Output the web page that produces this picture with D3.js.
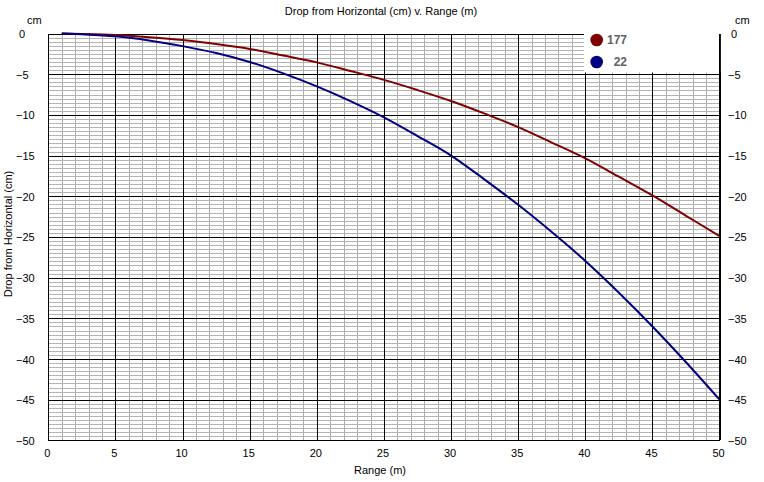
<!DOCTYPE html>
<html><head><meta charset="utf-8">
<script src="https://cdn.jsdelivr.net/npm/d3@7/dist/d3.min.js"></script>
<style>
body{margin:0;background:#fff;}
svg{display:block;font-family:"Liberation Sans",Arial,sans-serif;}
</style></head>
<body>
<svg id="c" width="764" height="482"></svg>
<script>
// ---- data ----
const ranges = [1, 2.5, 5, 7.5, 10, 12.5, 15, 17.5, 20, 22.5, 25, 27.5, 30, 32.5, 35, 37.5, 40, 42.5, 45, 47.5, 50];
const drop177 = [0, -0.05, -0.18, -0.45, -0.8, -1.3, -1.9, -2.7, -3.55, -4.6, -5.7, -6.95, -8.3, -9.85, -11.5, -13.4, -15.35, -17.6, -19.9, -22.4, -24.9];
const drop22 = [0, -0.1, -0.35, -0.85, -1.55, -2.4, -3.5, -4.9, -6.5, -8.3, -10.3, -12.6, -15.0, -17.95, -21.05, -24.4, -27.95, -31.85, -36.0, -40.4, -45.0];
const seriesNames = ["177", "22"];
const seriesColors = ["#800000", "#000080"];
const xTicks = [0, 5, 10, 15, 20, 25, 30, 35, 40, 45, 50];
const yTicks = [0, -5, -10, -15, -20, -25, -30, -35, -40, -45, -50];
const title = "Drop from Horizontal (cm) v. Range (m)";
const xTitle = "Range (m)";
const yTitle = "Drop from Horizontal (cm)";
const unitLabel = "cm";

// ---- layout ----
const L = 48.3, R = 719.6, T = 33.5, B = 440.4;
const svg = d3.select("#c");
const x = d3.scaleLinear().domain([0, 50]).range([L, R]);
const y = d3.scaleLinear().domain([-50, 0]).range([B, T]);

const minorX = d3.range(0, 51, 1);
const minorY = d3.range(-50, 0.01, 0.5);

// minor grid
svg.append("g").attr("transform", `translate(0,${B})`)
  .call(d3.axisBottom(x).tickValues(minorX).tickSize(-(B - T)).tickFormat(""))
  .call(g => { g.select(".domain").remove(); g.selectAll("line").attr("stroke", "#ababab").attr("shape-rendering", "crispEdges"); });
svg.append("g").attr("transform", `translate(${L},0)`)
  .call(d3.axisLeft(y).tickValues(minorY).tickSize(-(R - L)).tickFormat(""))
  .call(g => { g.select(".domain").remove(); g.selectAll("line").attr("stroke", "#b4b4b4").attr("shape-rendering", "crispEdges"); });
// major grid
svg.append("g").attr("transform", `translate(0,${B})`)
  .call(d3.axisBottom(x).tickValues(xTicks).tickSize(-(B - T)).tickFormat(""))
  .call(g => { g.select(".domain").remove(); g.selectAll("line").attr("stroke", "#000").attr("shape-rendering", "crispEdges"); });
svg.append("g").attr("transform", `translate(${L},0)`)
  .call(d3.axisLeft(y).tickValues(yTicks).tickSize(-(R - L)).tickFormat(""))
  .call(g => { g.select(".domain").remove(); g.selectAll("line").attr("stroke", "#000").attr("shape-rendering", "crispEdges"); });

// lines
const line = d3.line().x(d => x(d[0])).y(d => y(d[1])).curve(d3.curveMonotoneX);
[drop177, drop22].forEach((vals, i) => {
  svg.append("path").datum(ranges.map((r, j) => [r, vals[j]]))
    .attr("d", line).attr("fill", "none").attr("stroke", seriesColors[i]).attr("stroke-width", 2);
});

// legend box
svg.append("rect").attr("x", 584).attr("y", 31).attr("width", R - 584 + 0.5).attr("height", 41.5).attr("fill", "#fff");
const lg = svg.append("g");
seriesNames.forEach((n, i) => {
  lg.append("circle").attr("cx", 596.7).attr("cy", 40 + i * 22).attr("r", 6.3).attr("fill", seriesColors[i]);
  lg.append("text").attr("x", 627).attr("y", 44 + i * 22).attr("text-anchor", "end")
    .attr("font-size", 12).attr("font-weight", "bold").attr("fill", "#626262").text(n);
});

// right border line
svg.append("line").attr("x1", R).attr("x2", R).attr("y1", T).attr("y2", B + 0.5)
  .attr("stroke", "#000").attr("shape-rendering", "crispEdges");

// axis labels
svg.append("g").attr("transform", `translate(0,${B})`)
  .call(d3.axisBottom(x).tickValues(xTicks).tickSize(0).tickPadding(0))
  .call(g => { g.select(".domain").remove();
    g.selectAll("text").attr("font-size", 11).attr("font-family", null).attr("fill", "#000")
      .attr("dy", null).attr("y", 17).attr("dx", -1.5); });
svg.append("g").attr("transform", `translate(0,0)`)
  .call(d3.axisLeft(y).tickValues(yTicks).tickSize(0).tickPadding(0))
  .call(g => { g.select(".domain").remove();
    g.selectAll("text").attr("font-size", 11).attr("font-family", null).attr("fill", "#000")
      .attr("text-anchor", "start").attr("dy", null).attr("y", 4)
      .attr("x", d => d === 0 ? 19 : 16); });
svg.append("g").attr("transform", `translate(0,0)`)
  .call(d3.axisRight(y).tickValues(yTicks).tickSize(0).tickPadding(0))
  .call(g => { g.select(".domain").remove();
    g.selectAll("text").attr("font-size", 11).attr("font-family", null).attr("fill", "#000")
      .attr("text-anchor", "start").attr("dy", null).attr("y", 4)
      .attr("x", d => d === 0 ? 731 : 728); });

// titles
svg.append("text").attr("x", 381).attr("y", 15).attr("text-anchor", "middle").attr("font-size", 11).text(title);
svg.append("text").attr("x", 380).attr("y", 474).attr("text-anchor", "middle").attr("font-size", 11).text(xTitle);
svg.append("text").attr("transform", "translate(12,234) rotate(-90)").attr("text-anchor", "middle").attr("font-size", 11).text(yTitle);
svg.append("text").attr("x", 27).attr("y", 24).attr("font-size", 11).text(unitLabel);
svg.append("text").attr("x", 735).attr("y", 24).attr("font-size", 11).text(unitLabel);
</script>
</body></html>
